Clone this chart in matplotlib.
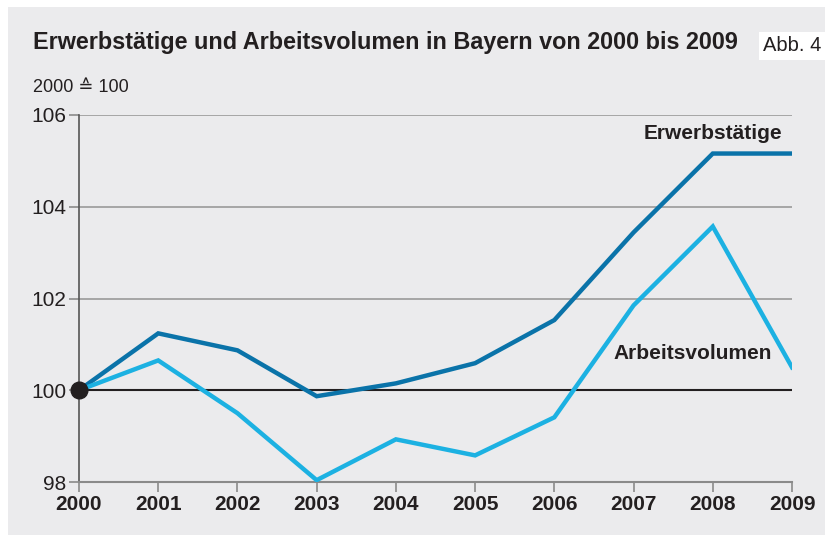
import numpy as np
import matplotlib
matplotlib.use("Agg")
from matplotlib import pyplot as plt
from matplotlib.patches import Rectangle

years = [2000, 2001, 2002, 2003, 2004, 2005, 2006, 2007, 2008, 2009]
erwerbstaetige = [100.0, 101.24, 100.87, 99.87, 100.15, 100.59, 101.53, 103.44, 105.16, 105.16]
arbeitsvolumen = [100.0, 100.65, 99.5, 98.04, 98.93, 98.58, 99.41, 101.85, 103.57, 100.5]
yticks = [98, 100, 102, 104, 106]

plt.rcParams['font.family'] = ['Liberation Sans', 'DejaVu Sans']

fig = plt.figure(figsize=(8.25, 5.38), dpi=100)
bg = '#ebebed'
fig.patches.append(Rectangle((8/825, 3/538), 1 - 8/825, 1 - 10/538, transform=fig.transFigure,
                             facecolor=bg, edgecolor='none', zorder=-10))

ax = fig.add_axes([79/825, 56/538, 713/825, 367/538])
ax.set_facecolor(bg)

for v in [102, 104, 106]:
    ax.axhline(v, color='#9a9a9a', lw=1.2, zorder=1)
ax.axhline(100, color='#231f20', lw=1.5, zorder=2)

ax.plot(years, erwerbstaetige, color='#0a73a9', lw=3.2, zorder=3, solid_joinstyle='miter')
ax.plot(years, arbeitsvolumen, color='#1cb1e2', lw=3.2, zorder=3, solid_joinstyle='miter')
ax.plot([years[0]], [100], 'o', color='#231f20', ms=12, zorder=5, clip_on=False)

ax.set_xlim(2000, 2009)
ax.set_ylim(98, 106)
ax.set_xticks(years)
ax.set_xticklabels([str(y) for y in years], fontweight='bold', fontsize=15, color='#231f20')
ax.set_yticks(yticks)
ax.set_yticklabels([str(y) for y in yticks], fontsize=15, color='#231f20')
ax.tick_params(axis='both', length=7, width=1.2, color='#8a8a8a', pad=2)

for s in ['top', 'right']:
    ax.spines[s].set_visible(False)
ax.spines['left'].set_color('#555555')
ax.spines['left'].set_linewidth(1.2)
ax.spines['bottom'].set_color('#8a8a8a')
ax.spines['bottom'].set_linewidth(1.5)

ax.text(2008.88, 105.38, 'Erwerbstätige', fontweight='bold', fontsize=15, ha='right', va='bottom', color='#231f20')
ax.text(2008.75, 100.6, 'Arbeitsvolumen', fontweight='bold', fontsize=15, ha='right', va='bottom', color='#231f20')

fig.text(33/825, 1 - 43/538, 'Erwerbstätige und Arbeitsvolumen in Bayern von 2000 bis 2009',
         fontweight='bold', fontsize=16.8, ha='left', va='center', color='#231f20')
fig.text(763/825, 1 - 46/538, 'Abb. 4', fontsize=14.5, ha='left', va='center', color='#231f20',
         bbox=dict(facecolor='white', edgecolor='none', pad=3))
fig.text(33/825, 1 - 87/538, '2000 ≙ 100', fontsize=13, ha='left', va='center', color='#231f20')

fig.savefig('out.png', dpi=100)
